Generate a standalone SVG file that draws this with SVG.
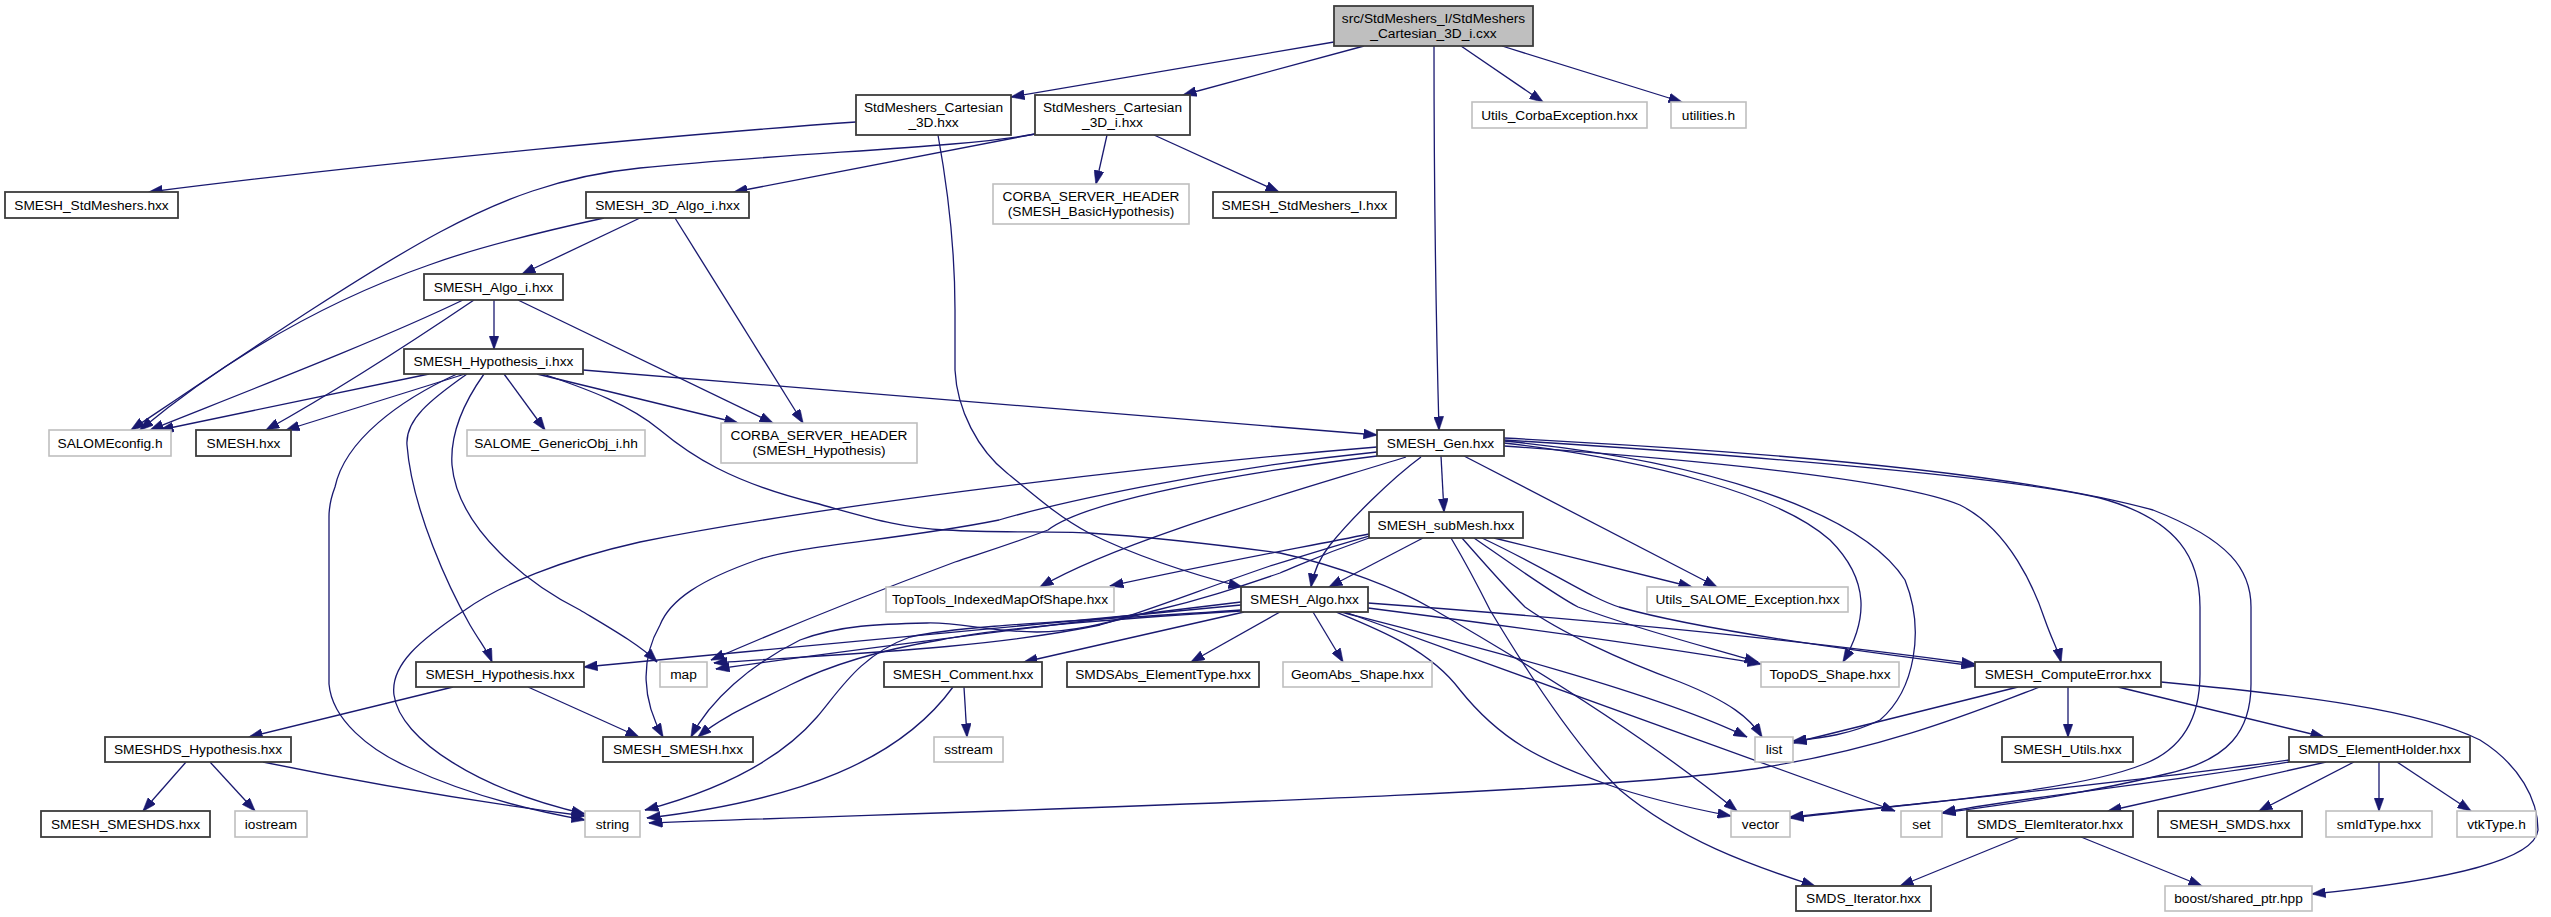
<svg xmlns="http://www.w3.org/2000/svg" width="2551" height="917" viewBox="0 0 2551 917">
<style>
.b{fill:#fff;stroke:#3c3c3c;stroke-width:1.8}
.u{fill:#fff;stroke:#bfbfbf;stroke-width:1.6}
.r{fill:#bfbfbf;stroke:#3c3c3c;stroke-width:1.8}
text{font-family:"Liberation Sans",Arial,sans-serif;font-size:13.7px;text-anchor:middle;fill:#000}
#edges path{fill:none;stroke:#191970;stroke-width:1.3;marker-end:url(#a)}
</style>
<defs>
<marker id="a" viewBox="0 0 14 10" refX="13.5" refY="5" markerWidth="14" markerHeight="10" markerUnits="userSpaceOnUse" orient="auto">
<path d="M0,0 L14,5 L0,10 z" fill="#191970" stroke="#191970" stroke-width="0.5"/>
</marker>
</defs>
<rect width="2551" height="917" fill="#fff"/>
<g id="edges">
<path d="M1334,42 L1011,97"/>
<path d="M1364,46 L1183,95"/>
<path d="M1461,46 L1543,102"/>
<path d="M1502,46 L1682,102"/>
<path d="M1434,46 C1434,200 1436,320 1439,430"/>
<path d="M856,122 C700,133 400,160 149,192"/>
<path d="M938,135 C948,190 955,250 955,310 L955,370 C957,410 978,450 1007,473 C1035,496 1060,518 1089,533 C1140,558 1195,575 1242,587"/>
<path d="M1035,134 L734,192"/>
<path d="M1035,134 C960,148 800,152 640,168 C560,176 500,200 440,232 C360,275 250,350 131,430"/>
<path d="M1107,135 L1096,184"/>
<path d="M1154,135 L1279,192"/>
<path d="M640,218 L522,274"/>
<path d="M604,218 C540,232 470,250 429,265 C300,310 200,380 140,430"/>
<path d="M675,218 L803,423"/>
<path d="M494,300 L494,349"/>
<path d="M463,300 C380,340 250,390 150,430"/>
<path d="M474,300 C400,350 320,400 266,430"/>
<path d="M518,300 L773,423"/>
<path d="M429,374 L160,430"/>
<path d="M465,374 L286,430"/>
<path d="M504,374 L545,430"/>
<path d="M537,374 L738,423"/>
<path d="M583,370 L1377,435"/>
<path d="M457,374 C400,400 345,440 335,487 C330,500 329,510 329,517 L329,684 C332,720 370,750 408,767 C440,782 500,805 585,820"/>
<path d="M467,374 C430,400 405,420 407,445 C412,510 450,590 470,625 C480,642 488,652 492,662"/>
<path d="M484,374 C462,405 450,435 452,465 C458,530 530,585 580,610 C610,628 640,645 657,662"/>
<path d="M543,374 C590,390 630,405 660,430 C690,455 730,482 815,503 C870,518 900,528 946,530 C1000,533 1050,531 1089,533 C1150,537 1220,545 1280,553 C1340,566 1400,590 1431,608 C1530,665 1650,740 1737,811"/>
<path d="M1377,447 C1100,470 800,510 640,542 C560,560 500,585 465,610 C420,640 390,665 394,695 C400,740 480,790 585,814"/>
<path d="M1377,452 C1200,470 1050,505 999,520 C900,540 800,545 757,560 C700,580 670,600 660,625 C640,660 642,700 663,737"/>
<path d="M1377,456 C1200,478 1080,505 1048,530 C1000,548 975,555 955,562 C880,590 780,630 711,660"/>
<path d="M1406,457 C1300,490 1120,540 1040,587"/>
<path d="M1421,457 C1390,480 1350,520 1330,545 C1318,560 1313,575 1311,587"/>
<path d="M1441,456 L1444,512"/>
<path d="M1464,456 L1717,587"/>
<path d="M1504,443 C1650,460 1780,495 1830,540 C1870,580 1868,620 1843,662"/>
<path d="M1504,441 C1700,460 1860,510 1905,580 C1925,630 1915,690 1880,720 C1850,735 1820,738 1793,741"/>
<path d="M1504,446 C1700,460 1900,480 1960,505 C2010,530 2035,590 2045,620 C2052,640 2058,650 2061,662"/>
<path d="M1504,440 C1700,452 2000,475 2100,498 C2180,520 2200,560 2200,607 L2200,674 C2200,720 2180,750 2144,764 C2080,790 1950,800 1790,817"/>
<path d="M1504,438 C1700,448 2000,468 2153,510 C2230,540 2251,570 2251,607 L2251,684 C2251,730 2230,760 2166,774 C2080,795 2000,805 1942,813"/>
<path d="M1423,538 L1329,587"/>
<path d="M1451,538 C1470,570 1480,590 1490,610 C1520,660 1570,740 1620,790 C1680,840 1750,865 1815,886"/>
<path d="M1462,538 C1490,570 1510,592 1525,607 C1560,632 1620,660 1680,682 C1730,702 1750,718 1762,737"/>
<path d="M1474,538 C1520,570 1555,595 1578,607 C1640,630 1700,645 1758,662"/>
<path d="M1482,538 C1550,570 1590,598 1619,607 C1700,630 1850,650 1975,666"/>
<path d="M1494,538 L1692,587"/>
<path d="M1369,534 C1300,548 1230,560 1110,586"/>
<path d="M1369,538 C1320,555 1300,565 1280,573 C1230,590 1200,600 1157,610 C1100,625 1070,632 1037,632 C990,632 960,622 927,623 C880,624 840,625 800,640 C750,665 710,700 691,737"/>
<path d="M1369,536 C1320,550 1290,560 1270,566 C1200,590 1150,610 1100,625 C980,650 820,655 714,663"/>
<path d="M1241,605 L584,667"/>
<path d="M1244,612 L1024,662"/>
<path d="M1280,612 L1191,662"/>
<path d="M1313,612 L1343,662"/>
<path d="M1368,608 C1500,625 1650,645 1761,664"/>
<path d="M1368,603 C1600,620 1800,640 1975,664"/>
<path d="M1341,612 C1450,640 1650,690 1747,737"/>
<path d="M1336,612 C1380,630 1430,650 1460,690 C1500,740 1540,760 1606,784 C1650,800 1700,810 1731,816"/>
<path d="M1345,612 L1895,811"/>
<path d="M1241,610 C1100,620 960,625 910,637 C860,655 840,690 817,717 C780,760 720,790 645,810"/>
<path d="M1241,602 C1050,625 850,650 716,669"/>
<path d="M1241,611 C1100,620 1000,628 940,640 C880,650 830,665 790,685 C750,705 720,718 698,737"/>
<path d="M453,687 L249,737"/>
<path d="M528,687 L639,737"/>
<path d="M186,762 L143,811"/>
<path d="M210,762 L255,811"/>
<path d="M263,762 C400,790 500,805 585,816"/>
<path d="M964,687 L967,737"/>
<path d="M953,687 C900,760 800,800 647,818"/>
<path d="M2068,687 L2068,737"/>
<path d="M2118,687 L2324,737"/>
<path d="M2161,682 C2300,695 2420,710 2480,740 C2520,765 2538,800 2538,830 C2535,860 2450,880 2312,894"/>
<path d="M2018,687 L1793,743"/>
<path d="M2040,687 C1990,705 1900,745 1766,767 C1600,795 1000,810 649,823"/>
<path d="M2289,760 C2150,780 1950,800 1790,818"/>
<path d="M2289,762 C2150,785 2000,800 1942,813"/>
<path d="M2326,762 L2108,811"/>
<path d="M2354,762 L2259,811"/>
<path d="M2379,762 L2379,811"/>
<path d="M2397,762 L2471,811"/>
<path d="M2020,837 L1900,886"/>
<path d="M2081,837 L2202,886"/>
</g>
<g id="n0"><rect class="r" x="1334" y="6" width="199" height="40"/><text x="1433.5" y="22.5">src/StdMeshers_I/StdMeshers</text><text x="1433.5" y="37.5">_Cartesian_3D_i.cxx</text></g>
<g id="n1"><rect class="b" x="856" y="95" width="155" height="40"/><text x="933.5" y="111.5">StdMeshers_Cartesian</text><text x="933.5" y="126.5">_3D.hxx</text></g>
<g id="n2"><rect class="b" x="1035" y="95" width="155" height="40"/><text x="1112.5" y="111.5">StdMeshers_Cartesian</text><text x="1112.5" y="126.5">_3D_i.hxx</text></g>
<g id="n3"><rect class="u" x="1472" y="102" width="175" height="26"/><text x="1559.5" y="119.7">Utils_CorbaException.hxx</text></g>
<g id="n4"><rect class="u" x="1671" y="102" width="75" height="26"/><text x="1708.5" y="119.7">utilities.h</text></g>
<g id="n5"><rect class="b" x="5" y="192" width="173" height="26"/><text x="91.5" y="209.7">SMESH_StdMeshers.hxx</text></g>
<g id="n6"><rect class="b" x="586" y="192" width="163" height="26"/><text x="667.5" y="209.7">SMESH_3D_Algo_i.hxx</text></g>
<g id="n7"><rect class="u" x="993" y="184" width="196" height="40"/><text x="1091" y="200.5">CORBA_SERVER_HEADER</text><text x="1091" y="215.5">(SMESH_BasicHypothesis)</text></g>
<g id="n8"><rect class="b" x="1213" y="192" width="183" height="26"/><text x="1304.5" y="209.7">SMESH_StdMeshers_I.hxx</text></g>
<g id="n9"><rect class="b" x="424" y="274" width="139" height="26"/><text x="493.5" y="291.7">SMESH_Algo_i.hxx</text></g>
<g id="n10"><rect class="b" x="404" y="349" width="179" height="25"/><text x="493.5" y="366.2">SMESH_Hypothesis_i.hxx</text></g>
<g id="n11"><rect class="u" x="49" y="430" width="122" height="26"/><text x="110" y="447.7">SALOMEconfig.h</text></g>
<g id="n12"><rect class="b" x="196" y="430" width="95" height="26"/><text x="243.5" y="447.7">SMESH.hxx</text></g>
<g id="n13"><rect class="u" x="467" y="430" width="178" height="26"/><text x="556" y="447.7">SALOME_GenericObj_i.hh</text></g>
<g id="n14"><rect class="u" x="721" y="423" width="196" height="40"/><text x="819" y="439.5">CORBA_SERVER_HEADER</text><text x="819" y="454.5">(SMESH_Hypothesis)</text></g>
<g id="n15"><rect class="b" x="1377" y="430" width="127" height="26"/><text x="1440.5" y="447.7">SMESH_Gen.hxx</text></g>
<g id="n16"><rect class="b" x="1369" y="512" width="154" height="26"/><text x="1446" y="529.7">SMESH_subMesh.hxx</text></g>
<g id="n17"><rect class="u" x="886" y="587" width="228" height="25"/><text x="1000" y="604.2">TopTools_IndexedMapOfShape.hxx</text></g>
<g id="n18"><rect class="b" x="1241" y="587" width="127" height="25"/><text x="1304.5" y="604.2">SMESH_Algo.hxx</text></g>
<g id="n19"><rect class="u" x="1647" y="587" width="201" height="25"/><text x="1747.5" y="604.2">Utils_SALOME_Exception.hxx</text></g>
<g id="n20"><rect class="b" x="416" y="662" width="168" height="25"/><text x="500" y="679.2">SMESH_Hypothesis.hxx</text></g>
<g id="n21"><rect class="u" x="660" y="662" width="47" height="25"/><text x="683.5" y="679.2">map</text></g>
<g id="n22"><rect class="b" x="884" y="662" width="158" height="25"/><text x="963" y="679.2">SMESH_Comment.hxx</text></g>
<g id="n23"><rect class="b" x="1067" y="662" width="192" height="25"/><text x="1163" y="679.2">SMDSAbs_ElementType.hxx</text></g>
<g id="n24"><rect class="u" x="1283" y="662" width="149" height="25"/><text x="1357.5" y="679.2">GeomAbs_Shape.hxx</text></g>
<g id="n25"><rect class="u" x="1761" y="662" width="138" height="25"/><text x="1830" y="679.2">TopoDS_Shape.hxx</text></g>
<g id="n26"><rect class="b" x="1975" y="662" width="186" height="25"/><text x="2068" y="679.2">SMESH_ComputeError.hxx</text></g>
<g id="n27"><rect class="b" x="105" y="737" width="186" height="25"/><text x="198" y="754.2">SMESHDS_Hypothesis.hxx</text></g>
<g id="n28"><rect class="b" x="603" y="737" width="150" height="25"/><text x="678" y="754.2">SMESH_SMESH.hxx</text></g>
<g id="n29"><rect class="u" x="934" y="737" width="69" height="25"/><text x="968.5" y="754.2">sstream</text></g>
<g id="n30"><rect class="u" x="1755" y="737" width="38" height="25"/><text x="1774" y="754.2">list</text></g>
<g id="n31"><rect class="b" x="2002" y="737" width="131" height="25"/><text x="2067.5" y="754.2">SMESH_Utils.hxx</text></g>
<g id="n32"><rect class="b" x="2289" y="737" width="181" height="25"/><text x="2379.5" y="754.2">SMDS_ElementHolder.hxx</text></g>
<g id="n33"><rect class="b" x="41" y="811" width="169" height="26"/><text x="125.5" y="828.7">SMESH_SMESHDS.hxx</text></g>
<g id="n34"><rect class="u" x="235" y="811" width="72" height="26"/><text x="271" y="828.7">iostream</text></g>
<g id="n35"><rect class="u" x="585" y="811" width="55" height="26"/><text x="612.5" y="828.7">string</text></g>
<g id="n36"><rect class="u" x="1731" y="811" width="59" height="26"/><text x="1760.5" y="828.7">vector</text></g>
<g id="n37"><rect class="u" x="1901" y="811" width="41" height="26"/><text x="1921.5" y="828.7">set</text></g>
<g id="n38"><rect class="b" x="1967" y="811" width="166" height="26"/><text x="2050" y="828.7">SMDS_ElemIterator.hxx</text></g>
<g id="n39"><rect class="b" x="2158" y="811" width="144" height="26"/><text x="2230" y="828.7">SMESH_SMDS.hxx</text></g>
<g id="n40"><rect class="u" x="2326" y="811" width="106" height="26"/><text x="2379" y="828.7">smIdType.hxx</text></g>
<g id="n41"><rect class="u" x="2457" y="811" width="79" height="26"/><text x="2496.5" y="828.7">vtkType.h</text></g>
<g id="n42"><rect class="b" x="1796" y="886" width="135" height="25"/><text x="1863.5" y="903.2">SMDS_Iterator.hxx</text></g>
<g id="n43"><rect class="u" x="2165" y="886" width="147" height="25"/><text x="2238.5" y="903.2">boost/shared_ptr.hpp</text></g>
</svg>
